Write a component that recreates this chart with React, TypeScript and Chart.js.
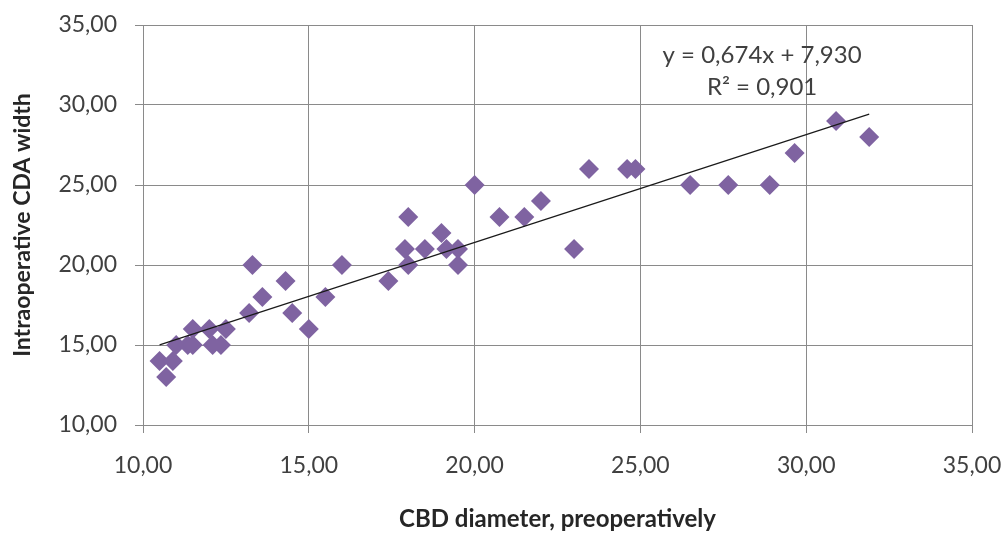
import React, { useEffect, useRef } from "react";
import { Chart, registerables } from "chart.js";

Chart.register(...registerables);

// CBD diameter, preoperatively (x)
const cbdDiameter = [
  10.5, 10.7, 10.9, 11.0, 11.35, 11.5, 11.5, 12.0, 12.1, 12.35,
  12.5, 13.2, 13.3, 13.6, 14.3, 14.5, 15.0, 15.5, 16.0, 17.4,
  17.9, 18.0, 18.0, 18.5, 19.0, 19.15, 19.5, 19.5, 20.0, 20.75,
  21.5, 22.0, 23.0, 23.45, 24.6, 24.85, 26.5, 27.65, 28.9, 29.65,
  30.9, 31.9,
];
// Intraoperative CDA width (y)
const cdaWidth = [
  14, 13, 14, 15, 15, 15, 16, 16, 15, 15,
  16, 17, 20, 18, 19, 17, 16, 18, 20, 19,
  21, 23, 20, 21, 22, 21, 21, 20, 25, 23,
  23, 24, 21, 26, 26, 26, 25, 25, 25, 27,
  29, 28,
];

const trendSlope = 0.674;
const trendIntercept = 7.93;
const equationLines = ["y = 0,674x + 7,930", "R² = 0,901"];
const equationAnchor = { x: 28.67, y1: 33.1, y2: 31.1 };

const axisMin = 10;
const axisMax = 35;
const axisStep = 5;

const xTitle = "CBD diameter, preoperatively";
const yTitle = "Intraoperative CDA width";

const FONT = "Lato";
const TEXT = "#404040";
const GRID = "#8a8a8a";
const POINT = "#7f63a1";

const fmt = (v: number | string) => Number(v).toFixed(2).replace(".", ",");

const equationPlugin = {
  id: "equationText",
  afterDatasetsDraw(chart: any) {
    const { ctx, scales } = chart;
    const x = scales.x.getPixelForValue(equationAnchor.x);
    ctx.save();
    ctx.fillStyle = TEXT;
    ctx.font = `24px ${FONT}`;
    ctx.textAlign = "center";
    ctx.textBaseline = "middle";
    ctx.fillText(equationLines[0], x, scales.y.getPixelForValue(equationAnchor.y1));
    ctx.fillText(equationLines[1], x, scales.y.getPixelForValue(equationAnchor.y2));
    ctx.restore();
  },
};

export default function App() {
  const ref = useRef<HTMLCanvasElement | null>(null);

  useEffect(() => {
    if (!ref.current) return;
    const points = cbdDiameter.map((x, i) => ({ x, y: cdaWidth[i] }));
    const xLo = Math.min(...cbdDiameter);
    const xHi = Math.max(...cbdDiameter);
    const trend = [
      { x: xLo, y: trendSlope * xLo + trendIntercept },
      { x: xHi, y: trendSlope * xHi + trendIntercept },
    ];

    const chart = new Chart(ref.current, {
      type: "scatter",
      data: {
        datasets: [
          {
            type: "line",
            data: trend,
            borderColor: "#1a1a1a",
            borderWidth: 1.2,
            pointRadius: 0,
            fill: false,
            order: 0,
          } as any,
          {
            data: points,
            pointStyle: "rectRot",
            pointRadius: 10,
            backgroundColor: POINT,
            borderColor: POINT,
            borderWidth: 0,
            order: 1,
          },
        ],
      },
      options: {
        responsive: false,
        animation: false,
        layout: { padding: { top: 25, right: 29, left: 0, bottom: 0 } },
        plugins: { legend: { display: false }, tooltip: { enabled: false } },
        scales: {
          x: {
            type: "linear",
            min: axisMin,
            max: axisMax,
            afterFit: (s: any) => {
              s.height = 109;
              s.paddingLeft = 0;
              s.paddingRight = 0;
            },
            ticks: {
              stepSize: axisStep,
              callback: (v: any) => fmt(v),
              font: { family: FONT, size: 23 },
              color: TEXT,
              padding: 19,
              maxRotation: 0,
            },
            grid: { color: GRID, tickLength: 8, lineWidth: 1 },
            border: { color: GRID },
            title: {
              display: true,
              text: xTitle,
              font: { family: FONT, size: 24, weight: "bold" },
              color: "#262626",
              padding: { top: 0, bottom: 0 },
            },
          },
          y: {
            type: "linear",
            min: axisMin,
            max: axisMax,
            afterFit: (s: any) => {
              s.width = 143;
              s.paddingTop = 0;
              s.paddingBottom = 0;
            },
            ticks: {
              stepSize: axisStep,
              callback: (v: any) => fmt(v),
              font: { family: FONT, size: 23 },
              color: TEXT,
              padding: 18,
            },
            grid: { color: GRID, tickLength: 8, lineWidth: 1 },
            border: { color: GRID },
            title: {
              display: true,
              text: yTitle,
              font: { family: FONT, size: 23, weight: "bold" },
              color: "#262626",
              padding: { top: 9, bottom: 0 },
            },
          },
        },
      },
      plugins: [equationPlugin],
    });
    return () => chart.destroy();
  }, []);

  return (
    <div style={{ position: "fixed", left: 0, top: 0, width: 1001, height: 534, background: "#fff" }}>
      <canvas ref={ref} width={1001} height={534} style={{ display: "block" }} />
    </div>
  );
}
